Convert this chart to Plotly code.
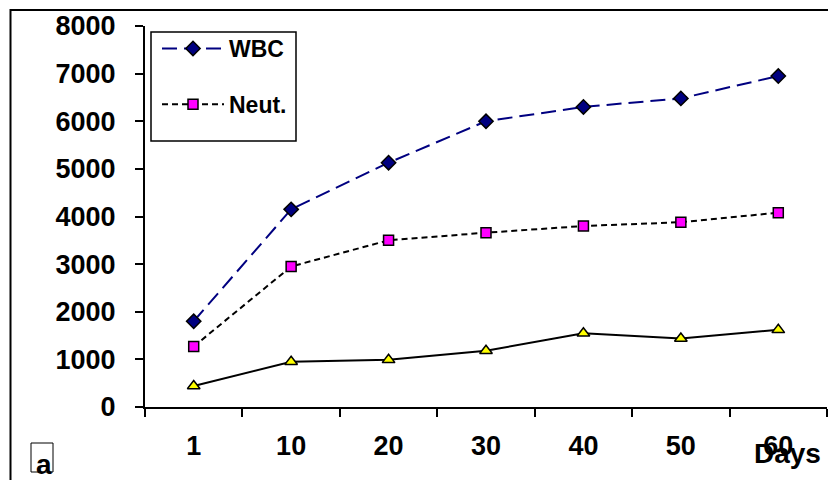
import plotly.graph_objects as go

days = ["1", "10", "20", "30", "40", "50", "60"]
wbc = [1800, 4150, 5130, 6000, 6300, 6480, 6950]
neut = [1270, 2950, 3500, 3660, 3800, 3880, 4080]
lymph = [440, 950, 990, 1180, 1550, 1440, 1620]
y_ticks = [0, 1000, 2000, 3000, 4000, 5000, 6000, 7000, 8000]

FONT = "Liberation Sans, Arial, sans-serif"

fig = go.Figure()
fig.add_trace(go.Scatter(
    x=days, y=wbc, name="<b>WBC</b>", mode="lines+markers", legendgroup="a",
    line=dict(color="#000080", width=2, dash="15px,7px"),
    marker=dict(symbol="diamond", size=11, color="#000080", line=dict(color="black", width=1.5)),
))
fig.add_trace(go.Scatter(
    x=days, y=neut, name="<b>Neut.</b>", mode="lines+markers", legendgroup="b",
    line=dict(color="black", width=2, dash="6px,4px"),
    marker=dict(symbol="square", size=10, color="#FF00FF", line=dict(color="black", width=1.5)),
))
fig.add_trace(go.Scatter(
    x=days, y=lymph, name="Lymph.", mode="lines+markers", showlegend=False,
    line=dict(color="black", width=2),
    marker=dict(symbol="triangle-up", size=11, color="#FFFF00", line=dict(color="black", width=1.5)),
))

W, H = 828, 480
L, R, T, B = 145, 1, 26, 73
pw, ph = W - L - R, H - T - B

def px(x):
    return (x - L) / pw

def py(y):
    return (H - B - y) / ph

fig.update_layout(
    width=W, height=H,
    margin=dict(l=L, r=R, t=T, b=B),
    paper_bgcolor="white", plot_bgcolor="white",
    font=dict(family=FONT, color="black"),
    legend=dict(
        x=px(157), y=py(27), xanchor="left", yanchor="top",
        bgcolor="rgba(0,0,0,0)", borderwidth=0,
        font=dict(size=23, family=FONT, color="black"),
        tracegroupgap=23, traceorder="grouped",
        itemwidth=62,
    ),
    xaxis=dict(
        type="category", range=[-0.5, 6.5], tickson="boundaries",
        showline=True, linecolor="black", linewidth=2,
        ticks="outside", ticklen=8, tickwidth=2, tickcolor="black",
        showgrid=False, zeroline=False,
        tickfont=dict(size=27, family=FONT, color="black", weight="bold"),
        ticklabelstandoff=14,
    ),
    yaxis=dict(
        range=[0, 8000], tickvals=y_ticks,
        showline=True, linecolor="black", linewidth=2,
        ticks="outside", ticklen=8, tickwidth=2, tickcolor="black",
        showgrid=False, zeroline=False,
        tickfont=dict(size=27, family=FONT, color="black", weight="bold"),
        ticklabelstandoff=14,
    ),
    shapes=[
        dict(type="rect", xref="paper", yref="paper",
             x0=px(10.5), x1=px(900), y0=py(600), y1=py(10),
             line=dict(color="black", width=2), layer="below"),
        dict(type="rect", xref="paper", yref="paper",
             x0=px(151), x1=px(296), y0=py(141), y1=py(32),
             line=dict(color="black", width=1.5), fillcolor="white", layer="above"),
        dict(type="rect", xref="paper", yref="paper",
             x0=px(31), x1=px(53), y0=py(472), y1=py(443),
             line=dict(color="black", width=1)),
    ],
    annotations=[
        dict(text="<b>Days</b>", xref="paper", yref="paper", x=px(787), y=py(453),
             xanchor="center", yanchor="middle", showarrow=False,
             font=dict(size=28, family=FONT, color="black")),
        dict(text="<b>a</b>", xref="paper", yref="paper", x=px(44), y=py(464),
             xanchor="center", yanchor="middle", showarrow=False,
             font=dict(size=28, family=FONT, color="black")),
    ],
)

fig.write_html("out.html", config={"displayModeBar": False},
               post_script="document.body.style.margin='0';")
